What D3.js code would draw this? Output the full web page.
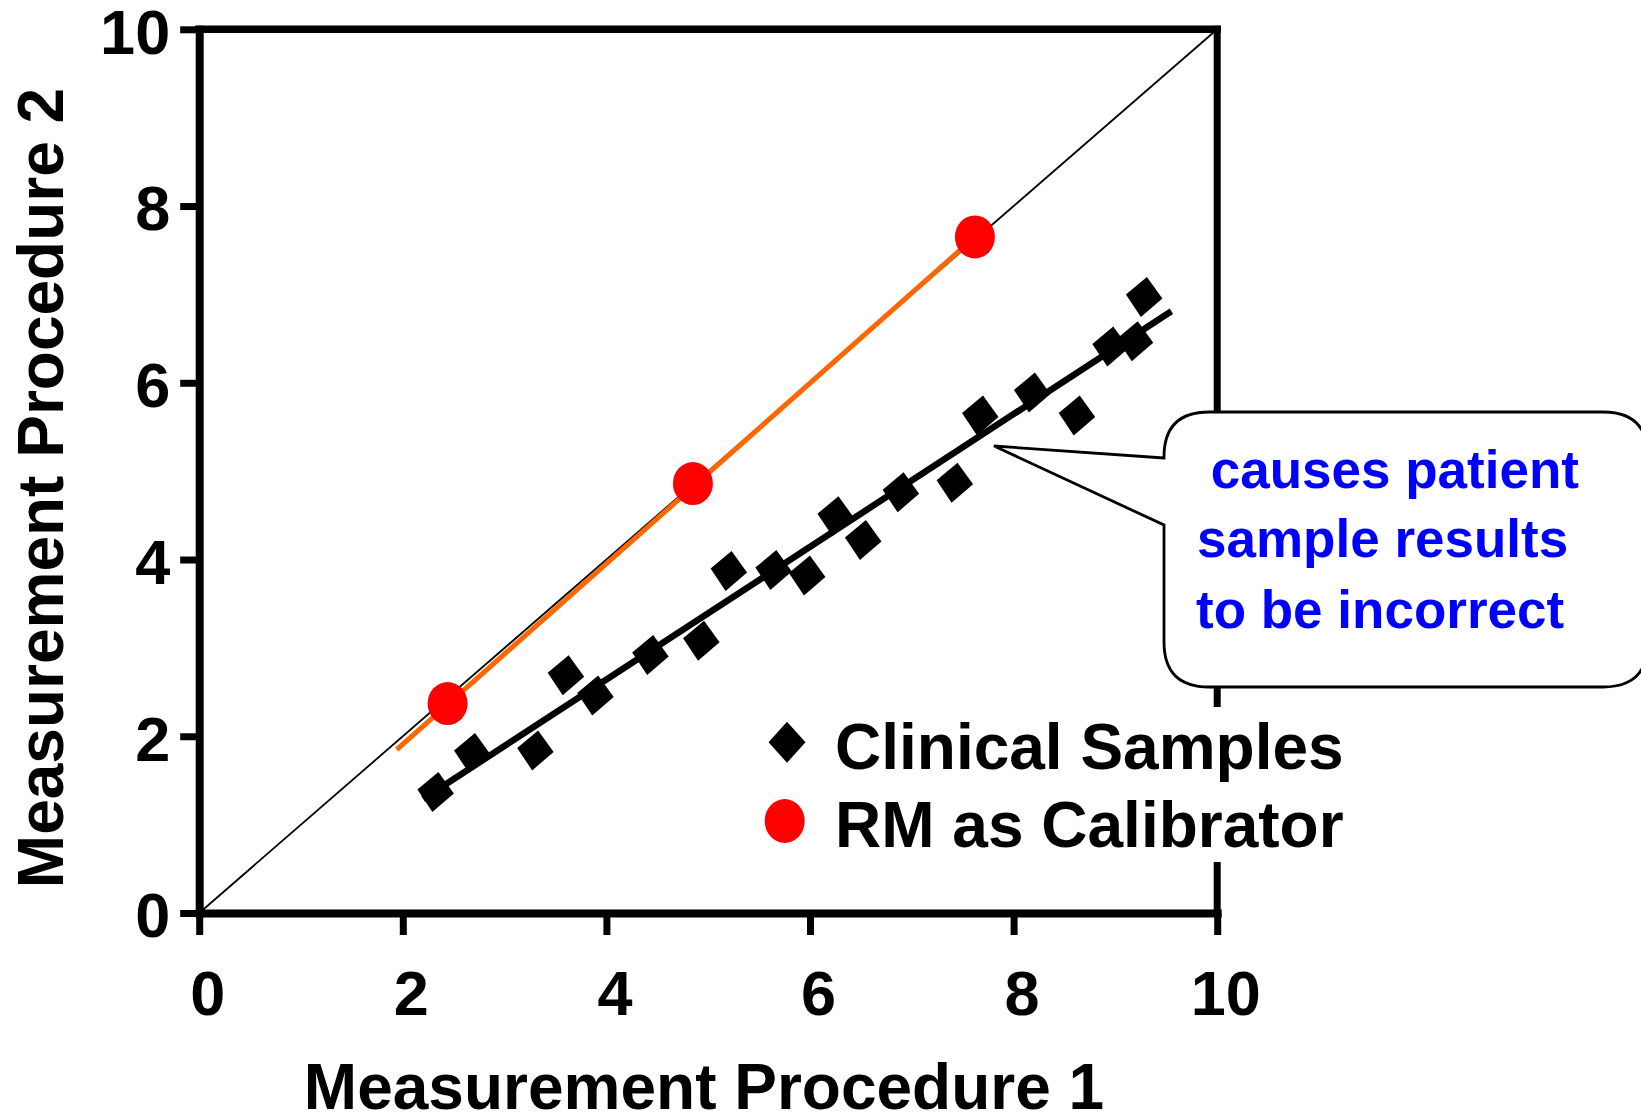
<!DOCTYPE html>
<html>
<head>
<meta charset="utf-8">
<script src="https://cdn.jsdelivr.net/npm/d3@7"></script>
<style>
  html, body { margin: 0; padding: 0; background: #fff; }
  svg { display: block; }
  text { font-family: "Liberation Sans", Arial, Helvetica, sans-serif; font-weight: bold; }
</style>
</head>
<body>
<svg id="chart" width="1641" height="1116"></svg>
<script>
// ---- data ----
const tickValues = [0, 2, 4, 6, 8, 10];
const sampleX = [2.32, 2.68, 3.30, 3.60, 3.89, 4.43, 4.93, 5.20, 5.64, 5.97, 6.25, 6.52, 6.89, 7.42, 7.67, 8.18, 8.62, 8.95, 9.19, 9.28];
const sampleY = [1.37, 1.81, 1.84, 2.69, 2.46, 2.92, 3.08, 3.87, 3.88, 3.82, 4.49, 4.22, 4.76, 4.87, 5.63, 5.89, 5.63, 6.41, 6.47, 6.97];
const rmX = [2.44, 4.85, 7.62];
const rmY = [2.37, 4.86, 7.65];
const sampleFitX = [2.20, 9.55];
const sampleFitY = [1.29, 6.81];
const rmFitX = [1.94, 7.62];
const rmFitY = [1.85, 7.65];
const identityX = [0, 10];
const identityY = [0, 10];
const legendLabels = ["Clinical Samples", "RM as Calibrator"];
const calloutLines = [" causes patient", "sample results", "to be incorrect"];
const xTitle = "Measurement Procedure 1";
const yTitle = "Measurement Procedure 2";

// ---- layout ----
const svg = d3.select("#chart");
const x = d3.scaleLinear().domain([0, 10]).range([199.2, 1217.2]);
const y = d3.scaleLinear().domain([0, 10]).range([913, 29.3]);
const line = d3.line().x(d => x(d[0])).y(d => y(d[1]));
const zip = (a, b) => a.map((v, i) => [v, b[i]]);

// identity line
svg.append("path").attr("d", line(zip(identityX, identityY)))
  .attr("fill", "none").attr("stroke", "#000").attr("stroke-width", 1.8);

// RM calibration line (orange)
svg.append("path").attr("d", line(zip(rmFitX, rmFitY)))
  .attr("fill", "none").attr("stroke", "#FF6600").attr("stroke-width", 5);

// clinical sample regression line
svg.append("path").attr("d", line(zip(sampleFitX, sampleFitY)))
  .attr("fill", "none").attr("stroke", "#000").attr("stroke-width", 6.5);

// diamonds
const diamondPath = "M3,-20L18.5,1.5L-3,20L-18,-2.5Z";
svg.append("g").selectAll("path").data(zip(sampleX, sampleY)).join("path")
  .attr("d", diamondPath)
  .attr("transform", d => `translate(${x(d[0])},${y(d[1])})`)
  .attr("fill", "#000");

// red points
svg.append("g").selectAll("ellipse").data(zip(rmX, rmY)).join("ellipse")
  .attr("cx", d => x(d[0])).attr("cy", d => y(d[1]))
  .attr("rx", 20).attr("ry", 21.5).attr("fill", "#FF0000");

// frame: top and right
svg.append("line").attr("x1", x(0)).attr("x2", x(10)).attr("y1", y(10)).attr("y2", y(10))
  .attr("stroke", "#000").attr("stroke-width", 7.5).attr("stroke-linecap", "square");
svg.append("line").attr("x1", x(10)).attr("x2", x(10)).attr("y1", y(10)).attr("y2", y(0))
  .attr("stroke", "#000").attr("stroke-width", 7).attr("stroke-linecap", "square");

// axes
const xAxis = svg.append("g").attr("transform", `translate(0,${y(0)})`)
  .call(d3.axisBottom(x).tickValues(tickValues).tickSize(22).tickSizeOuter(0).tickFormat(d3.format("d")));
const yAxis = svg.append("g").attr("transform", `translate(${x(0)},0)`)
  .call(d3.axisLeft(y).tickValues(tickValues).tickSize(19).tickSizeOuter(0).tickFormat(d3.format("d")));
[xAxis, yAxis].forEach(g => {
  g.select(".domain").attr("stroke", "#000").attr("stroke-width", 8).attr("stroke-linecap", "square");
  g.selectAll(".tick line").attr("stroke", "#000").attr("stroke-width", 7);
  g.selectAll(".tick text").attr("fill", "#000").style("font-size", "63px")
    .style("font-family", '"Liberation Sans", Arial, sans-serif').style("font-weight", "bold");
});
xAxis.selectAll(".tick text").attr("y", 102).attr("dy", 0).attr("x", 8);
yAxis.selectAll(".tick text").attr("x", -29).attr("dy", "0.38em");

// axis titles
svg.append("text").attr("x", 704).attr("y", 1109).attr("text-anchor", "middle")
  .style("font-size", "64px").attr("fill", "#000").text(xTitle);
svg.append("text").attr("transform", "translate(63,488) rotate(-90)").attr("text-anchor", "middle")
  .style("font-size", "64px").attr("fill", "#000").text(yTitle);

// callout
const cL = 1164, cT = 412, cB = 687, cR = 1648, r = 45;
const tip = [994, 446];
const calloutPath = [
  `M${cL},458`, `L${tip[0]},${tip[1]}`, `L${cL},525`,
  `L${cL},${cB - r}`, `Q${cL},${cB} ${cL + r},${cB}`,
  `L${cR - r},${cB}`, `Q${cR},${cB} ${cR},${cB - r}`,
  `L${cR},${cT + r}`, `Q${cR},${cT} ${cR - r},${cT}`,
  `L${cL + r},${cT}`, `Q${cL},${cT} ${cL},${cT + r}`, "Z"
].join(" ");
svg.append("path").attr("d", calloutPath).attr("fill", "#fff")
  .attr("stroke", "#000").attr("stroke-width", 2.8).attr("stroke-linejoin", "miter");
const calloutX = [1196, 1197, 1196];
const calloutY = [488, 556.5, 628];
svg.append("g").selectAll("text").data(calloutLines).join("text")
  .attr("x", (d, i) => calloutX[i]).attr("y", (d, i) => calloutY[i])
  .attr("fill", "#0000FF").style("font-size", "53px").style("white-space", "pre")
  .attr("xml:space", "preserve").text(d => d);

// legend
svg.append("rect").attr("x", 760).attr("y", 707).attr("width", 590).attr("height", 155).attr("fill", "#fff");
svg.append("path").attr("d", "M0,-20.5L18.5,0L0,20.5L-18.5,0Z")
  .attr("transform", "translate(787,742.3)").attr("fill", "#000");
svg.append("ellipse").attr("cx", 784.7).attr("cy", 821).attr("rx", 20).attr("ry", 22).attr("fill", "#FF0000");
const legendY = [769.3, 846.7];
svg.append("g").selectAll("text").data(legendLabels).join("text")
  .attr("x", 835).attr("y", (d, i) => legendY[i]).attr("fill", "#000")
  .style("font-size", "64px").text(d => d);
</script>
</body>
</html>
